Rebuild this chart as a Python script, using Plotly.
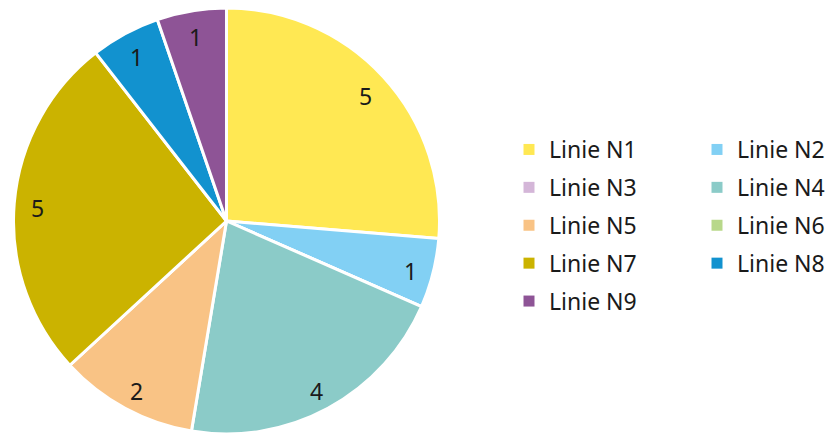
import math
import plotly.graph_objects as go

labels = ["Linie N1", "Linie N2", "Linie N3", "Linie N4", "Linie N5",
          "Linie N6", "Linie N7", "Linie N8", "Linie N9"]
values = [5, 1, 0, 4, 2, 0, 5, 1, 1]
colors = ["#FFE853", "#82D0F4", "#D4B6D8", "#8BCBC8", "#F9C385",
          "#B8D88A", "#CBB300", "#1292CF", "#8E5496"]

W, H = 836, 436
FONT = "Noto Sans"
OFF = 8  # page body margin
cx, cy, R = 226.5 - OFF, 221.0 - OFF, 213.0

fig = go.Figure()
fig.add_trace(go.Pie(
    labels=labels, values=values, sort=False, direction="clockwise", rotation=0,
    marker=dict(colors=colors, line=dict(color="white", width=3)),
    textinfo="none", hoverinfo="label+value", showlegend=False,
    domain=dict(x=[max(0, (cx - R) / W), min(1, (cx + R) / W)],
                y=[max(0, 1 - (cy + R) / H), min(1, 1 - (cy - R) / H)]),
))

# value labels placed along each slice's mid-angle
total = sum(values)
cum = 0
anns = []
for v in values:
    if v > 0:
        mid = (cum + v / 2) / total * 2 * math.pi
        r = 0.89 * R
        px = cx + r * math.sin(mid)
        py = cy - r * math.cos(mid)
        anns.append(dict(x=px / W, y=1 - py / H, xref="paper", yref="paper",
                         xanchor="center", yanchor="middle", yshift=-3,
                         text=str(v), showarrow=False,
                         font=dict(family=FONT, size=23, color="#1a1a1a")))
    cum += v

# legend in two columns via proxy traces
for i, (lab, col) in enumerate(zip(labels, colors)):
    fig.add_trace(go.Scatter(
        x=[None], y=[None], mode="markers", name=lab,
        marker=dict(symbol="square", size=11, color=col),
        legend="legend" if i % 2 == 0 else "legend2",
        legendgroup=lab, hoverinfo="skip",
    ))

leg_common = dict(
    orientation="v", xanchor="left", yanchor="top",
    font=dict(family=FONT, size=23, color="#1a1a1a"),
    bgcolor="rgba(0,0,0,0)", tracegroupgap=5, itemsizing="trace",
)
fig.update_layout(
    width=W, height=H,
    margin=dict(l=0, r=0, t=0, b=0),
    paper_bgcolor="white", plot_bgcolor="white",
    xaxis=dict(visible=False), yaxis=dict(visible=False),
    annotations=anns,
    legend=dict(x=501 / W, y=1 - 120 / H, **leg_common),
    legend2=dict(x=689 / W, y=1 - 120 / H, **leg_common),
)

fig.write_html("out.html")
